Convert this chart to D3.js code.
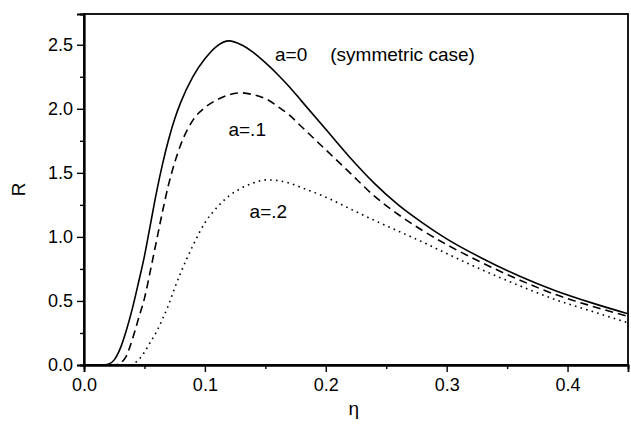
<!DOCTYPE html>
<html>
<head>
<meta charset="utf-8">
<script src="https://cdn.jsdelivr.net/npm/d3@7"></script>
<style>
  body { margin: 0; background: #fff; }
  text { font-family: "Liberation Sans", Arial, sans-serif; fill: #000; }
</style>
</head>
<body>
<div id="chart"></div>
<script>
// eta grid shared by the three curves
const eta = [0, 0.015, 0.02, 0.025, 0.03, 0.035, 0.04, 0.045, 0.05, 0.055, 0.06, 0.065,
  0.07, 0.075, 0.08, 0.09, 0.10, 0.11, 0.12, 0.13, 0.14, 0.15, 0.16, 0.17, 0.18, 0.20, 0.22,
  0.24, 0.26, 0.28, 0.30, 0.33, 0.36, 0.39, 0.42, 0.45];

const rA0 = [0, 0, 0.005, 0.04, 0.13, 0.27, 0.44, 0.64, 0.85, 1.10, 1.35, 1.57,
  1.76, 1.92, 2.05, 2.25, 2.39, 2.49, 2.53, 2.50, 2.44, 2.36, 2.27, 2.17, 2.06, 1.84, 1.62,
  1.42, 1.25, 1.11, 0.985, 0.83, 0.695, 0.58, 0.485, 0.40];

const rA1 = [0, 0, 0, 0, 0.015, 0.07, 0.20, 0.36, 0.52, 0.74, 0.97, 1.20,
  1.41, 1.58, 1.72, 1.91, 2.01, 2.07, 2.11, 2.125, 2.11, 2.08, 2.02, 1.95, 1.86, 1.68, 1.50,
  1.32, 1.175, 1.05, 0.94, 0.795, 0.665, 0.55, 0.46, 0.38];

const rA2 = [0, 0, 0, 0, 0, 0, 0.005, 0.04, 0.10, 0.18, 0.26, 0.36,
  0.47, 0.60, 0.72, 0.93, 1.11, 1.23, 1.32, 1.38, 1.42, 1.445, 1.44, 1.42, 1.385, 1.31, 1.22,
  1.13, 1.045, 0.96, 0.87, 0.74, 0.62, 0.51, 0.42, 0.33];

const xTicks = [0, 0.1, 0.2, 0.3, 0.4];
const yTicks = [0, 0.5, 1.0, 1.5, 2.0, 2.5];

const series = [
  { name: "a=0", values: rA0, dash: null },
  { name: "a=.1", values: rA1, dash: "8,5" },
  { name: "a=.2", values: rA2, dash: "1.6,4.2" }
];

const labels = [
  { eta: 0.158, r: 2.37, parts: ["a=0", "(symmetric case)"] },
  { eta: 0.1195, r: 1.79, parts: ["a=.1"] },
  { eta: 0.137, r: 1.15, parts: ["a=.2"] }
];

const margin = { top: 14, right: 3, bottom: 59, left: 84 },
      width = 631 - margin.left - margin.right,
      height = 424 - margin.top - margin.bottom;

const svg = d3.select("#chart").append("svg")
  .attr("width", width + margin.left + margin.right)
  .attr("height", height + margin.top + margin.bottom)
  .append("g")
  .attr("transform", `translate(${margin.left},${margin.top})`);

const x = d3.scaleLinear().domain([0, 0.45]).range([0, width]);
const y = d3.scaleLinear().domain([0, 2.74]).range([height, 0]);

// frame
svg.append("rect")
  .attr("width", width)
  .attr("height", height)
  .attr("fill", "none")
  .attr("stroke", "#000")
  .attr("stroke-width", 1.8);

// minor ticks
const xMinor = d3.axisBottom(x).tickValues(d3.range(0.05, 0.45, 0.1)).tickSize(4).tickFormat("");
const yMinor = d3.axisLeft(y).tickValues(d3.range(0.25, 2.74, 0.5)).tickSize(4).tickFormat("");
svg.append("g").attr("transform", `translate(0,${height})`).call(xMinor);
svg.append("g").call(yMinor);

const xAxis = svg.append("g")
  .attr("transform", `translate(0,${height})`)
  .call(d3.axisBottom(x).tickValues(xTicks).tickSize(7).tickPadding(6).tickFormat(d3.format(".1f")));
const yAxis = svg.append("g")
  .call(d3.axisLeft(y).tickValues(yTicks).tickSize(7).tickPadding(4).tickFormat(d3.format(".1f")));

svg.selectAll(".domain").attr("stroke", "#000").attr("stroke-width", 1.8);
svg.selectAll(".tick line").attr("stroke", "#000").attr("stroke-width", 1.4);
svg.selectAll(".tick text").style("font-size", "18px").attr("font-family", null);
xAxis.selectAll(".tick text").attr("dy", "0.72em");

const line = d3.line()
  .x((d, i) => x(eta[i]))
  .y(d => y(d))
  .curve(d3.curveMonotoneX);

svg.selectAll("path.curve")
  .data(series)
  .enter()
  .append("path")
  .attr("class", "curve")
  .attr("d", d => line(d.values))
  .attr("fill", "none")
  .attr("stroke", "#000")
  .attr("stroke-width", 1.6)
  .attr("stroke-dasharray", d => d.dash);

// curve labels
const lbl = svg.selectAll("text.lbl")
  .data(labels)
  .enter()
  .append("text")
  .attr("class", "lbl")
  .attr("x", d => x(d.eta))
  .attr("y", d => y(d.r))
  .style("font-size", "19px");
lbl.selectAll("tspan")
  .data(d => d.parts)
  .enter()
  .append("tspan")
  .attr("dx", (d, i) => i === 0 ? 0 : 23)
  .text(d => d);

// Label Y
svg.append("text")
  .attr("x", -height / 2)
  .attr("y", -59)
  .attr("transform", "rotate(-90)")
  .attr("text-anchor", "middle")
  .style("font-size", "19px")
  .text("R");

// Label X
svg.append("text")
  .attr("x", x(0.2232))
  .attr("y", height + 50)
  .attr("text-anchor", "middle")
  .style("font-size", "19px")
  .text("η");
</script>
</body>
</html>
